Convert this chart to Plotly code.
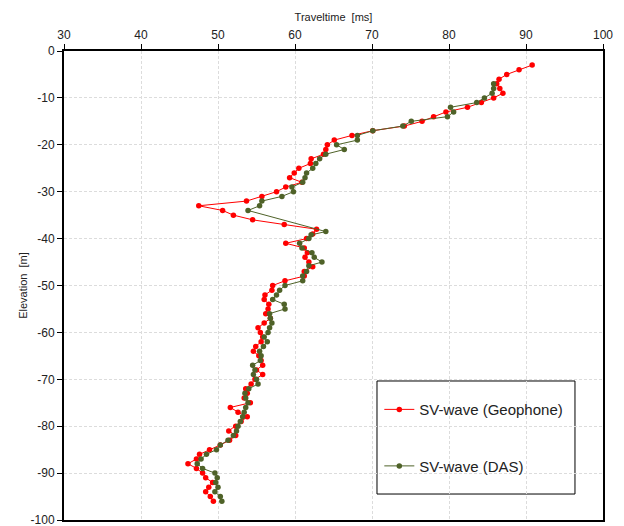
import plotly.graph_objects as go

# SV-wave (Geophone)
geo_elev = [-3, -4, -5, -6, -7, -8, -9, -10, -11, -12, -13, -14, -15, -16, -17, -18, -19, -20,
            -21, -22, -23, -24, -25, -26, -27, -28, -29, -30, -31, -32, -33, -34, -35, -36, -37,
            -38, -39, -40, -41, -42, -43, -44, -45, -46, -47, -48, -49, -50, -51, -52, -53, -54,
            -55, -56, -57, -58, -59, -60, -61, -62, -63, -64, -65, -66, -67, -68, -69, -70, -71,
            -72, -73, -74, -75, -76, -77, -78, -79, -80, -81, -82, -83, -84, -85, -86, -87, -88,
            -89, -90, -91, -92, -93, -94, -95, -96]
geo_time = [90.8, 89.1, 87.5, 86.5, 86.2, 86.6, 87.0, 85.8, 84.2, 82.4, 79.6, 78.0, 76.5, 74.2,
            70.1, 67.4, 65.1, 64.2, 64.0, 63.7, 62.1, 62.0, 60.5, 59.9, 59.3, 60.9, 58.8, 57.6,
            55.7, 53.7, 47.5, 50.6, 52.0, 54.5, 58.6, 62.8, 62.3, 61.5, 58.8, 61.2, 61.6, 61.3,
            61.8, 62.3, 61.2, 61.2, 58.7, 57.1, 57.0, 56.1, 56.0, 56.6, 56.5, 56.2, 56.8, 56.0,
            55.2, 55.5, 55.8, 55.6, 54.9, 54.6, 55.3, 55.6, 55.8, 55.0, 55.8, 54.8, 54.3, 53.6,
            53.8, 53.4, 54.2, 51.6, 52.6, 53.8, 53.0, 52.3, 51.4, 52.3, 51.5, 50.3, 48.9, 47.6,
            47.2, 46.1, 47.2, 48.0, 48.4, 49.3, 48.8, 48.4, 49.0, 49.4]

# SV-wave (DAS)
das_elev = [-7, -8, -9, -10, -11, -12, -13, -14, -15, -16, -17, -18, -19, -20, -21, -22, -23,
            -24, -25, -26, -27, -28, -29, -30, -31, -32, -33, -34, -38.5, -39.2, -40, -41, -42,
            -43, -44, -45, -45.8, -47, -48, -49, -50, -51, -52, -53, -54, -55, -56, -57, -58,
            -59, -60, -61, -62, -63, -64, -65, -66, -67, -68, -69, -70, -71, -72, -73, -74, -75,
            -76, -77, -78, -79, -80, -81, -82, -83, -84, -85, -86, -87, -88, -89, -90, -91, -92,
            -93, -94, -95, -96]
das_time = [85.8, 85.8, 85.6, 84.6, 83.6, 80.2, 80.6, 79.8, 75.1, 74.0, 70.1, 68.1, 68.1, 65.4,
            66.4, 64.0, 63.2, 62.7, 62.3, 61.5, 61.3, 61.0, 59.6, 59.8, 58.3, 55.7, 55.4, 53.9,
            64.0, 62.1, 61.8, 60.6, 60.9, 62.2, 62.5, 63.5, 61.8, 61.5, 61.0, 61.0, 58.7, 58.0,
            57.6, 57.1, 58.6, 58.7, 56.7, 56.8, 57.0, 56.7, 56.5, 56.0, 56.4, 55.9, 55.4, 55.6,
            55.5, 54.5, 54.8, 54.6, 55.0, 55.2, 54.0, 53.5, 53.6, 53.9, 53.6, 53.4, 53.2, 52.9,
            52.6, 52.4, 52.0, 51.3, 50.3, 49.8, 48.5, 47.8, 47.3, 48.0, 49.6, 49.9, 49.7, 50.0,
            49.6, 50.3, 50.5]

x_ticks = [30, 40, 50, 60, 70, 80, 90, 100]
y_ticks = [0, -10, -20, -30, -40, -50, -60, -70, -80, -90, -100]

fig = go.Figure()
fig.add_trace(go.Scatter(
    x=geo_time, y=geo_elev, mode="lines+markers", name="SV-wave (Geophone)",
    line=dict(color="#FF0000", width=1), marker=dict(color="#FF0000", size=5.5),
    legendgroup="g1"))
fig.add_trace(go.Scatter(
    x=das_time, y=das_elev, mode="lines+markers", name="SV-wave (DAS)",
    line=dict(color="#4F6228", width=1), marker=dict(color="#4F6228", size=5.5),
    legendgroup="g2"))

axis_font = dict(family="Liberation Sans, Arial, sans-serif", size=12, color="#222")
fig.update_layout(
    width=624, height=526,
    margin=dict(l=64, r=21, t=51, b=6),
    paper_bgcolor="white", plot_bgcolor="white",
    font=dict(family="Liberation Sans, Arial, sans-serif", color="#222"),
    xaxis=dict(
        side="top", range=[30, 100], tickvals=x_ticks, ticktext=[str(v) for v in x_ticks],
        showline=True, linecolor="black", linewidth=2, mirror=True, automargin=False,
        ticks="outside", ticklen=5, tickcolor="black", tickfont=axis_font,
        ticklabeloverflow="allow",
        showgrid=True, gridcolor="#dcdcdc", griddash="3px,2px", gridwidth=1, zeroline=False,
        title=dict(text="Traveltime\u00a0 [ms]", font=dict(size=11, color="#222"), standoff=4),
    ),
    yaxis=dict(
        range=[-100, 0], tickvals=y_ticks, ticktext=[str(v) for v in y_ticks],
        showline=True, linecolor="black", linewidth=2, mirror=True, automargin=False,
        ticks="outside", ticklen=5, tickcolor="black", tickfont=axis_font,
        ticklabeloverflow="allow",
        showgrid=True, gridcolor="#dcdcdc", griddash="3px,2px", gridwidth=1, zeroline=False,
        title=dict(text="Elevation\u00a0 [m]", font=dict(size=11, color="#222"), standoff=1),
    ),
    showlegend=True,
    legend=dict(
        x=0.585, y=0.2705, xanchor="left", yanchor="top",
        bgcolor="rgba(0,0,0,0)", borderwidth=0,
        font=dict(size=15, color="#222"),
        traceorder="grouped", tracegroupgap=34,
    ),
    shapes=[dict(type="rect", xref="paper", yref="paper",
                 x0=0.5807, x1=0.948, y0=0.0554, y1=0.2964,
                 line=dict(color="black", width=1), fillcolor="white", layer="below")],
)
fig.write_html("out.html")
